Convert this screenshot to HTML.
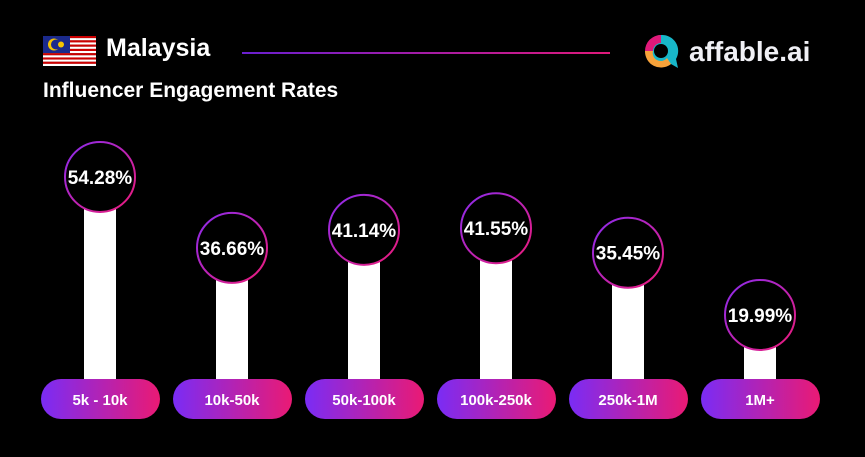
<!DOCTYPE html>
<html><head><meta charset="utf-8"><style>
html,body{margin:0;padding:0;background:#000;}
body{width:865px;height:457px;overflow:hidden;position:relative;font-family:"Liberation Sans",sans-serif;color:#fff;}
.t{position:absolute;font-weight:bold;white-space:nowrap;}
</style></head><body>
<svg style="position:absolute;left:43px;top:36px" width="53" height="30" viewBox="0 0 53 30">
<g id="stripes"></g>
<rect x="0" y="0" width="27" height="17" fill="#1b2a8c"/>
<circle cx="11" cy="8.5" r="6" fill="#f6c400"/><circle cx="13" cy="8.5" r="5" fill="#1b2a8c"/>
<circle cx="18" cy="8.5" r="3" fill="#f6c400"/>
</svg>
<div class="t" style="left:106px;top:34px;font-size:25px;">Malaysia</div>
<div style="position:absolute;left:242px;top:52px;width:368px;height:2px;background:linear-gradient(90deg,#6a1fd0,#e0197a);"></div>
<svg style="position:absolute;left:640px;top:33px" width="42" height="36" viewBox="0 0 42 36">
<path d="M21 2a16 16 0 1 0 10 29l7 4-2-9a16 16 0 0 0-15-24z" fill="#18b7c9"/>
<path d="M5 18a16 16 0 0 1 16-16v8a8 8 0 0 0-8 8z" fill="#e0197a"/>
<path d="M5 18a16 16 0 0 0 26 13l-4-6a8 8 0 0 1-14-7z" fill="#f7a23a"/>
<circle cx="21" cy="18" r="7" fill="#000"/>
</svg>
<div class="t" style="left:689px;top:36px;font-size:28px;color:#f0f0f5;">affable.ai</div>
<div class="t" style="left:43px;top:79px;font-size:21px;">Influencer Engagement Rates</div>
<svg id="chart" style="position:absolute;left:0;top:0" width="865" height="457">
<defs>
<linearGradient id="pg" x1="0" x2="1" y1="0" y2="0"><stop offset="0" stop-color="#7a2cf5"/><stop offset="1" stop-color="#ea1a74"/></linearGradient>
<linearGradient id="cg" x1="0" x2="1" y1="0" y2="1"><stop offset="0" stop-color="#8a2cf0"/><stop offset="1" stop-color="#ee1a78"/></linearGradient>
</defs>
</svg>
<script>
const categories=["5k - 10k","10k-50k","50k-100k","100k-250k","250k-1M","1M+"];
const values=[54.28,36.66,41.14,41.55,35.45,19.99];
const labels=["54.28%","36.66%","41.14%","41.55%","35.45%","19.99%"];
const NS="http://www.w3.org/2000/svg";
const svg=document.getElementById('chart');
function xPos(i){return 100+i*132;}
function yPos(v){return 395.4-v*4.024;}
const stripes=document.querySelector('#stripes');
for(let k=0;k<14;k++){const r=document.createElementNS(NS,'rect');r.setAttribute('x',0);r.setAttribute('y',k*30/14);r.setAttribute('width',53);r.setAttribute('height',30/14+0.1);r.setAttribute('fill',k%2?'#fff':'#cc0001');stripes.appendChild(r);}
function mk(tag,attrs,parent){const e=document.createElementNS(NS,tag);for(const k in attrs)e.setAttribute(k,attrs[k]);(parent||svg).appendChild(e);return e;}
values.forEach((v,i)=>{
 const cx=xPos(i),cy=yPos(v);
 const bar=mk('rect',{x:cx-16,y:cy,width:32,height:380-cy,fill:'#fff'});
 
 
 const c=mk('circle',{cx:cx,cy:cy,r:35,fill:'#000',stroke:'url(#cg)','stroke-width':2});
 
 
 const t=mk('text',{x:cx,y:cy+7,'text-anchor':'middle','font-size':19,'font-weight':'bold',fill:'#fff','font-family':'Liberation Sans, sans-serif'});
 t.textContent=labels[i];
 
 
 const p=mk('rect',{x:cx-59,y:379,width:119,height:40,rx:20,fill:'url(#pg)'});
 
 
 const pt=mk('text',{x:cx,y:405,'text-anchor':'middle','font-size':15,'font-weight':'bold',fill:'#fff','font-family':'Liberation Sans, sans-serif'});
 pt.textContent=categories[i];
 
 
});
</script>
</body></html>
